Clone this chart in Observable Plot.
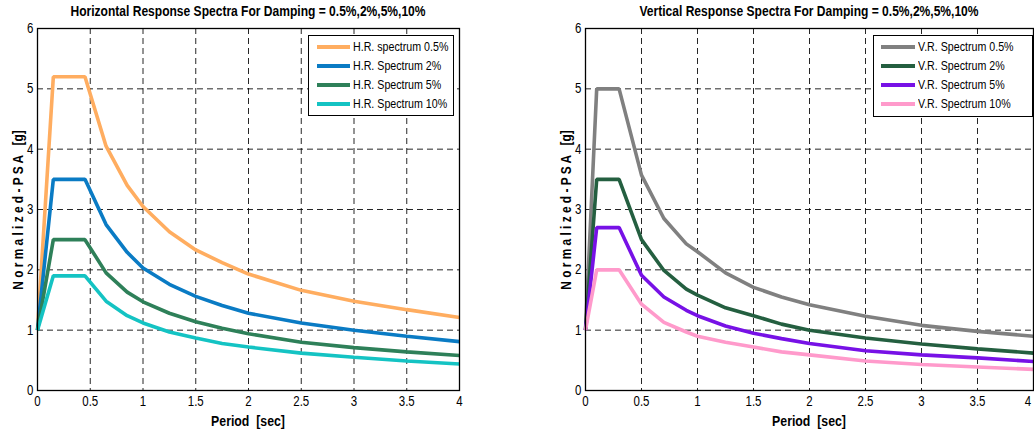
<!DOCTYPE html>
<html><head><meta charset="utf-8">
<script src="https://cdn.jsdelivr.net/npm/d3@7"></script>
<script src="https://cdn.jsdelivr.net/npm/@observablehq/plot@0.6"></script>
<style>
body{margin:0;background:#fff;}
#wrap{position:relative;width:1034px;height:433px;overflow:hidden;font-family:"Liberation Sans",Arial,sans-serif;color:#000;}
.panel{position:absolute;top:0;}
.title{position:absolute;top:4px;font-weight:bold;font-size:14.7px;line-height:1;white-space:nowrap;transform:translateX(-50%) scaleX(0.82);}
.xlabel{position:absolute;top:413px;font-weight:bold;font-size:15px;line-height:1;white-space:pre;transform:translateX(-50%) scaleX(0.82);}
.ylabel{position:absolute;font-weight:bold;font-size:14.5px;line-height:1;white-space:pre;transform:translate(-50%,-50%) rotate(-90deg) scaleX(0.82);}
.legend{position:absolute;border:1.3px solid #000;background:#fff;box-sizing:border-box;}
.row{position:absolute;left:0;height:19px;display:flex;align-items:center;font-size:13px;white-space:nowrap;}
.sw{display:inline-block;height:4px;flex:none;}
.lt{display:inline-block;transform-origin:0 50%;transform:scaleX(0.82);}
</style>
</head><body>
<div id="wrap"></div>
<script>
// ---- data ----
const xTicks = [0, 0.5, 1, 1.5, 2, 2.5, 3, 3.5, 4];
const yTicks = [0, 1, 2, 3, 4, 5, 6];

const hTitle = "Horizontal Response Spectra For Damping = 0.5%,2%,5%,10%";
const vTitle = "Vertical Response Spectra For Damping = 0.5%,2%,5%,10%";
const xLabel = "Period  [sec]";
const yLabel = "N o r m a l i z e d - P S A   [g]";

const hPeriods = [0, 0.15, 0.45, 0.65, 0.85, 1.0, 1.25, 1.5, 1.75, 2, 2.5, 3, 3.5, 4];
const hNames = ["H.R. spectrum 0.5%", "H.R. Spectrum 2%", "H.R. Spectrum 5%", "H.R. Spectrum 10%"];
const hColors = ["#FFAD60", "#0A7BC4", "#2E8059", "#14C3C3"];
const h05 = [1, 5.2, 5.2, 4.05, 3.4, 3.05, 2.63, 2.33, 2.12, 1.93, 1.66, 1.48, 1.34, 1.21];
const h2  = [1, 3.5, 3.5, 2.75, 2.29, 2.03, 1.76, 1.56, 1.41, 1.28, 1.12, 1.0, 0.9, 0.81];
const h5  = [1, 2.5, 2.5, 1.95, 1.63, 1.47, 1.28, 1.14, 1.03, 0.94, 0.8, 0.71, 0.64, 0.58];
const h10 = [1, 1.9, 1.9, 1.48, 1.24, 1.12, 0.97, 0.87, 0.78, 0.72, 0.62, 0.55, 0.49, 0.44];

const vPeriods = [0, 0.1, 0.3, 0.5, 0.7, 0.9, 1.0, 1.25, 1.5, 1.75, 2, 2.5, 3, 3.5, 4];
const vNames = ["V.R. Spectrum 0.5%", "V.R. Spectrum 2%", "V.R. Spectrum 5%", "V.R. Spectrum 10%"];
const vColors = ["#808080", "#245F40", "#7711E6", "#FF9ACB"];
const v05 = [1, 5.0, 5.0, 3.57, 2.85, 2.43, 2.3, 1.95, 1.71, 1.55, 1.42, 1.23, 1.08, 0.98, 0.9];
const v2  = [1, 3.5, 3.5, 2.5, 1.99, 1.68, 1.58, 1.37, 1.24, 1.1, 1.0, 0.87, 0.77, 0.69, 0.62];
const v5  = [1, 2.7, 2.7, 1.91, 1.55, 1.33, 1.24, 1.07, 0.95, 0.86, 0.78, 0.66, 0.59, 0.54, 0.48];
const v10 = [1, 2.0, 2.0, 1.43, 1.13, 0.97, 0.9, 0.8, 0.72, 0.64, 0.59, 0.49, 0.43, 0.39, 0.35];

// ---- drawing ----
const wrap = document.getElementById("wrap");
const FONT = '"Liberation Sans",Arial,sans-serif';

function makePanel(opt) {
  const rows = opt.series.flatMap((vals, i) =>
    vals.map((v, j) => ({period: opt.periods[j], psa: v, name: opt.names[i]})));
  const svg = Plot.plot({
    width: opt.width, height: 433,
    marginLeft: 37, marginRight: opt.mr, marginTop: 28, marginBottom: 43,
    style: {fontFamily: FONT, fontSize: "14px", background: "transparent", color: "#000", overflow: "visible"},
    x: {domain: [0, 4], ticks: xTicks, tickFormat: d => String(d), label: null},
    y: {domain: [0, 6], ticks: yTicks, tickFormat: d => String(d), label: null},
    color: {domain: opt.names, range: opt.colors},
    marks: [
      Plot.ruleX(xTicks.slice(1, -1), {stroke: "#000", strokeOpacity: 0.85, strokeDasharray: "6,4"}),
      Plot.ruleY(yTicks.slice(1, -1), {stroke: "#000", strokeOpacity: 0.85, strokeDasharray: "6,4"}),
      Plot.line(rows, {x: "period", y: "psa", z: "name", stroke: "name", strokeWidth: 3.6, strokeLinejoin: "miter", strokeLinecap: "butt"}),
      Plot.axisX({ticks: xTicks, tickFormat: d => String(d), tickSize: 0, tickPadding: 6, label: null}),
      Plot.axisY({ticks: yTicks, tickFormat: d => String(d), tickSize: 0, tickPadding: 4, label: null}),
      Plot.frame({stroke: "#000", strokeWidth: 1.3})
    ]
  });
  svg.classList.add("panel");
  svg.style.left = opt.left + "px";
  // condense tick labels horizontally (narrow face look of the reference)
  let lastX = null, lastPos = -Infinity;
  svg.querySelectorAll("text").forEach(t => {
    const tr = t.getAttribute("transform") || "";
    const m = /translate\(\s*([-\d.]+)/.exec(tr);
    if (t.textContent === "4" && m && +m[1] > lastPos) { lastPos = +m[1]; lastX = t; }
    t.setAttribute("transform", tr + " scale(0.82,1)");
  });
  if (opt.lastEnd && lastX) {
    lastX.setAttribute("text-anchor", "end");
    lastX.style.textAnchor = "end";
    lastX.setAttribute("dx", "-3");
  }
  wrap.appendChild(svg);

  const t = document.createElement("div");
  t.className = "title"; t.textContent = opt.title; t.style.left = opt.cx + "px";
  wrap.appendChild(t);
  const xl = document.createElement("div");
  xl.className = "xlabel"; xl.textContent = xLabel; xl.style.left = opt.cx + "px";
  wrap.appendChild(xl);
  const yl = document.createElement("div");
  yl.className = "ylabel"; yl.textContent = yLabel;
  yl.style.left = opt.ylx + "px"; yl.style.top = "210px";
  wrap.appendChild(yl);

  const lg = document.createElement("div");
  lg.className = "legend";
  Object.assign(lg.style, {left: opt.lg[0] + "px", top: opt.lg[1] + "px", width: opt.lg[2] + "px", height: opt.lg[3] + "px"});
  opt.names.forEach((n, i) => {
    const r = document.createElement("div");
    r.className = "row";
    r.style.top = (1 + i * 19.1) + "px";
    r.style.left = opt.swx + "px";
    const s = document.createElement("span");
    s.className = "sw"; s.style.width = opt.sww + "px"; s.style.background = opt.colors[i];
    s.style.marginRight = "3px";
    const tx = document.createElement("span"); tx.className = "lt"; tx.textContent = n;
    r.appendChild(s); r.appendChild(tx);
    lg.appendChild(r);
  });
  wrap.appendChild(lg);
}

makePanel({periods: hPeriods, series: [h05, h2, h5, h10], names: hNames, colors: hColors,
  width: 470, mr: 11, left: 0, cx: 248, ylx: 18, title: hTitle,
  lg: [308, 35, 146, 81], swx: 8, sww: 33});
makePanel({periods: vPeriods, series: [v05, v2, v5, v10], names: vNames, colors: vColors,
  width: 486, mr: 1, left: 548, cx: 809, ylx: 566, title: vTitle,
  lg: [873, 35, 160, 82], swx: 7, sww: 34, lastEnd: true});
</script>
</body></html>
